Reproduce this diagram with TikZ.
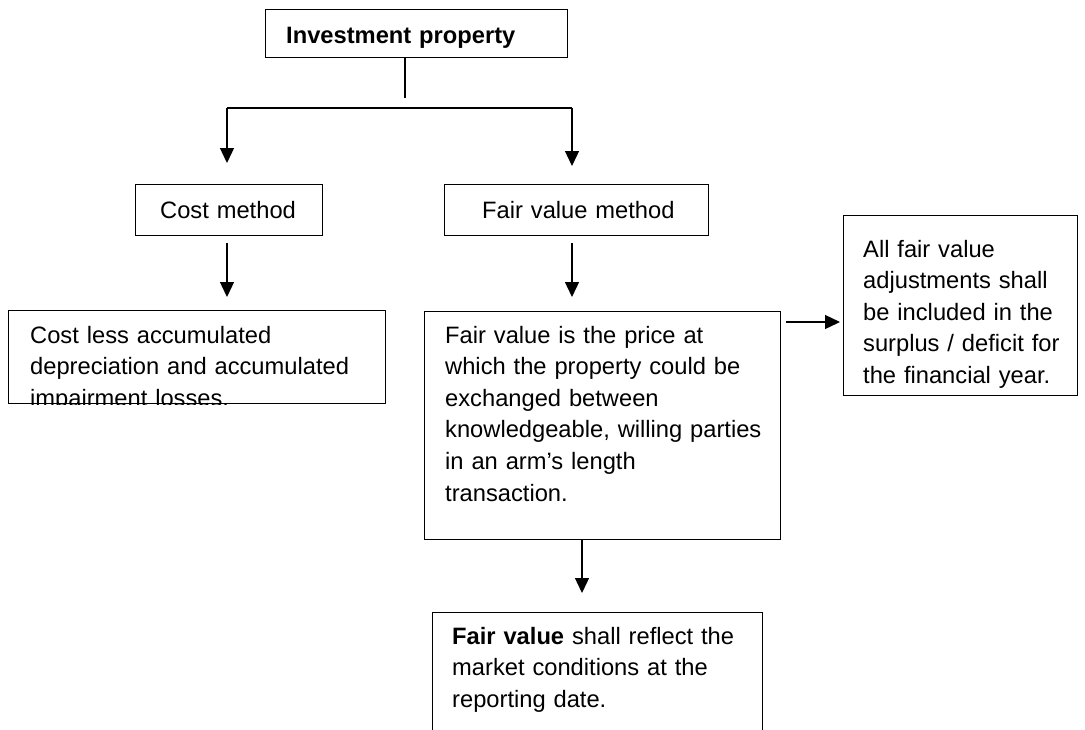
\documentclass[tikz,border=0pt]{standalone}
\usepackage{fontspec}
\setmainfont{Liberation Sans}
\usetikzlibrary{arrows.meta,calc}
\begin{document}
\begin{tikzpicture}[x=1pt,y=-1pt,
  box/.style={draw=black, line width=1.3pt, rectangle, inner sep=0pt, anchor=north west},
  txt/.style={anchor=base west, inner sep=0pt, align=left, text width=#1, font=\fontsize{23.7}{31.6}\selectfont},
  txt/.default=400pt,
  ln/.style={line width=1.3pt},
  arr/.style={line width=1.3pt, -{Triangle[width=14pt,length=15pt]}}]
\clip (0,0) rectangle (1085,729);
\fill[white] (0,0) rectangle (1085,729);

% boxes
\node[box, minimum width=302pt, minimum height=48pt] (inv) at (265,9) {};
\node[box, minimum width=187pt, minimum height=51pt] (cost) at (135,184) {};
\node[box, minimum width=264pt, minimum height=51pt] (fvm) at (444,184) {};
\node[box, minimum width=377pt, minimum height=93pt] (costless) at (8,310) {};
\node[box, minimum width=356pt, minimum height=228pt] (fv) at (424,311) {};
\node[box, minimum width=234pt, minimum height=180pt] (rbox) at (843,215) {};
\node[box, minimum width=330pt, minimum height=140pt] (bot) at (432,612) {};

% texts
\node[txt] (invt) at (286,43) {\textbf{Investment property}};
\node[txt] (costt) at (160,218) {Cost method};
\node[txt] (fvmt) at (482,218) {Fair value method};
\begin{scope}
\clip (costless.north west) rectangle (costless.south east);
\node[txt] (costlesst) at (30,343) {Cost less accumulated\\depreciation and accumulated\\impairment losses.};
\end{scope}
\node[txt] (fvt) at (445,343) {Fair value is the price at\\which the property could be\\exchanged between\\knowledgeable, willing parties\\in an arm’s length\\transaction.};
\node[txt] (rboxt) at (863,257) {All fair value\\adjustments shall\\be included in the\\surplus / deficit for\\the financial year.};
\node[txt] (bott) at (452,644) {\textbf{Fair value} shall reflect the\\market conditions at the\\reporting date.};

% connectors
\coordinate (stem) at (405,98);
\coordinate (bl) at (227,108);
\coordinate (br) at (572,108);
\coordinate (rowy) at (0,322);
\coordinate (dx) at (582,0);
\draw[ln] (inv.south -| stem) -- (stem);
\draw[ln] (bl) -- (br);
\draw[arr, shorten >=21pt] (bl) -- (bl |- cost.north);
\draw[arr, shorten >=18pt] (br) -- (br |- fvm.north);
\draw[arr, shorten <=7pt, shorten >=13pt] (bl |- cost.south) -- (bl |- costless.north);
\draw[arr, shorten <=7pt, shorten >=14pt] (br |- fvm.south) -- (br |- fv.north);
\draw[arr, shorten <=5pt, shorten >=3pt] (fv.east |- rowy) -- (rbox.west |- rowy);
\draw[arr, shorten >=19pt] (fv.south -| dx) -- (bot.north -| dx);
\end{tikzpicture}
\end{document}
